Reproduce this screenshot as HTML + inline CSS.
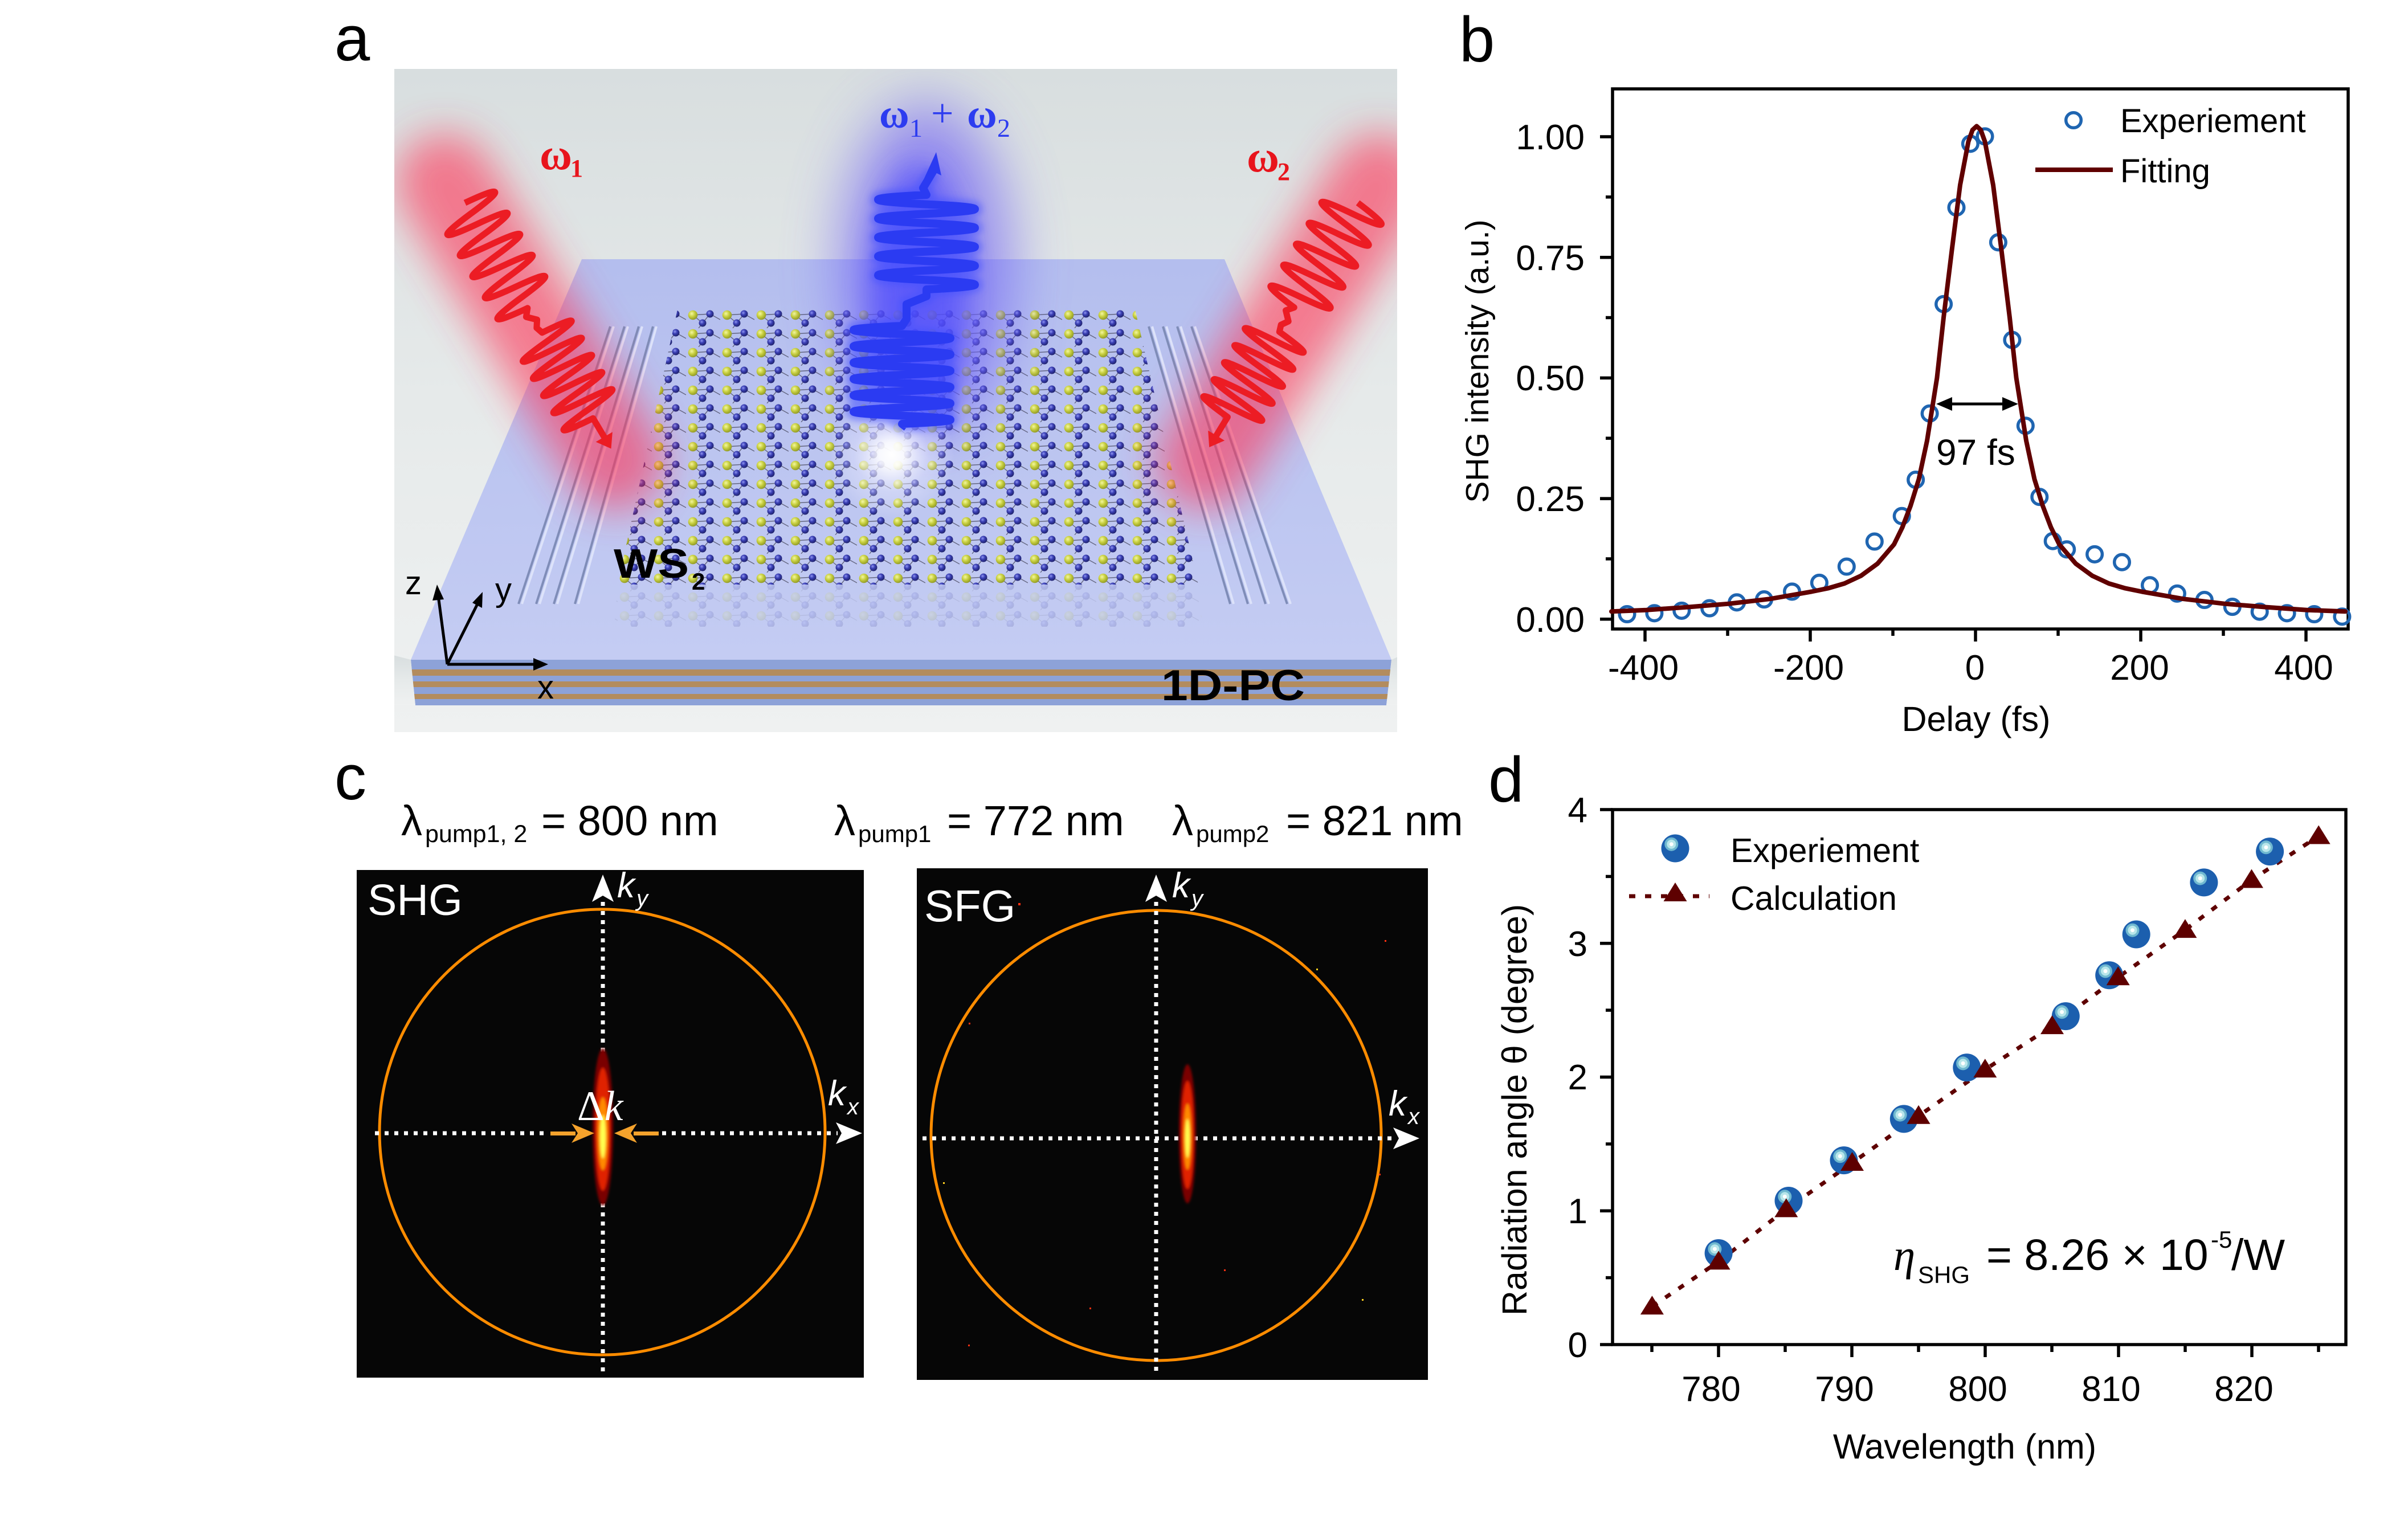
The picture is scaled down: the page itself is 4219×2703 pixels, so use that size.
<!DOCTYPE html>
<html><head><meta charset="utf-8">
<style>
html,body{margin:0;padding:0;background:#fff;}
svg{display:block;}
text{font-family:"Liberation Sans",Arial,sans-serif;}
.sf{font-family:"Liberation Serif","Times New Roman",serif;}
</style></head><body>
<svg width="4219" height="2703" viewBox="0 0 4219 2703" xmlns="http://www.w3.org/2000/svg">
<defs>
<clipPath id="clipA"><rect x="692" y="121" width="1760" height="1164"/></clipPath>
<clipPath id="clipC1"><rect x="626" y="1527" width="890" height="891"/></clipPath>
<clipPath id="clipC2"><rect x="1609" y="1524" width="897" height="898"/></clipPath>
<linearGradient id="abg" x1="0" y1="0" x2="0" y2="1"><stop offset="0" stop-color="#d8dedf"/><stop offset="0.5" stop-color="#e6eaea"/><stop offset="1" stop-color="#eff1f1"/></linearGradient>
<linearGradient id="slab" x1="0" y1="0" x2="0" y2="1"><stop offset="0" stop-color="#b4beee"/><stop offset="1" stop-color="#c4ccf3"/></linearGradient>
<radialGradient id="gb" cx="0.38" cy="0.35" r="0.65"><stop offset="0" stop-color="#9096f2"/><stop offset="0.45" stop-color="#3a3fb4"/><stop offset="1" stop-color="#20236e"/></radialGradient>
<radialGradient id="gy" cx="0.38" cy="0.35" r="0.65"><stop offset="0" stop-color="#f4f7a0"/><stop offset="0.5" stop-color="#c8d040"/><stop offset="1" stop-color="#939c28"/></radialGradient>
<radialGradient id="spot"><stop offset="0" stop-color="#fff" stop-opacity="1"/><stop offset="0.2" stop-color="#fff" stop-opacity="0.9"/><stop offset="0.6" stop-color="#eef" stop-opacity="0.35"/><stop offset="1" stop-color="#fff" stop-opacity="0"/></radialGradient>
<pattern id="lat" x="1084" y="543" width="60" height="33" patternUnits="userSpaceOnUse">
 <g stroke="#3c3c50" stroke-width="1.4" opacity="0.7">
  <line x1="12" y1="10" x2="42" y2="8"/>
  <line x1="12" y1="10" x2="29" y2="24"/>
  <line x1="29" y1="24" x2="42" y2="8"/>
  <line x1="42" y1="8" x2="60" y2="18"/>
  <line x1="29" y1="24" x2="22" y2="33"/>
 </g>
 <circle cx="29" cy="24" r="6.5" fill="url(#gb)"/>
 <circle cx="42" cy="8" r="6.5" fill="url(#gb)"/>
 <circle cx="12" cy="10" r="8.3" fill="url(#gy)"/>
</pattern>
<filter id="bl35" filterUnits="userSpaceOnUse" x="500" y="0" width="2200" height="1500"><feGaussianBlur stdDeviation="35"/></filter>
<filter id="bl50" filterUnits="userSpaceOnUse" x="500" y="0" width="2200" height="1500"><feGaussianBlur stdDeviation="50"/></filter>
<filter id="bl25" filterUnits="userSpaceOnUse" x="500" y="0" width="2200" height="1500"><feGaussianBlur stdDeviation="25"/></filter>
<filter id="bl6" filterUnits="userSpaceOnUse" x="500" y="0" width="2200" height="1500"><feGaussianBlur stdDeviation="6"/></filter>
<filter id="bl2" filterUnits="userSpaceOnUse" x="600" y="1500" width="2000" height="1000"><feGaussianBlur stdDeviation="2"/></filter>
<g id="ballg">
 <circle cx="0" cy="0" r="24.5" fill="#1c5fae"/>
 <circle cx="-6.7" cy="-7.3" r="12" fill="#6fb8d0"/>
 <circle cx="-6.7" cy="-7.3" r="8" fill="#b8e6ea"/>
 <circle cx="-6.7" cy="-7.3" r="3.5" fill="#ffffff"/>
</g>
<polygon id="tri" points="0,-19 20.5,14 -20.5,14" fill="#5e0000"/>
<path id="wredp" d="M0,0 q10.75,-110 21.5,0 t21.5,0 t21.5,0 t21.5,0 t21.5,0 t21.5,0 t21.5,0 t21.5,0 t21.5,0 t21.5,0 l12,10 l14,-14 l12,8 l12,-4 q8.75,-110 17.5,0 t17.5,0 t17.5,0 t17.5,0 t17.5,0 t17.5,0 t17.5,0 t17.5,0 t17.5,0 t17.5,0 l42,0"/>
<path id="wbluep" d="M1591,750 L1583,744 q170,-7.17 0,-14.33 t0,-14.33 t0,-14.33 t0,-14.33 t0,-14.33 t0,-14.33 t0,-14.33 t0,-14.33 t0,-14.33 t0,-14.33 t0,-14.33 t0,-14.33 L1591,560 L1591,534 L1626,520 L1626,508 q170,-8.3 0,-16.6 t0,-16.6 t0,-16.6 t0,-16.6 t0,-16.6 t0,-16.6 t0,-16.6 t0,-16.6 t0,-16.6 t0,-16.6 L1620,330 L1638,300"/>
</defs>

<rect x="0" y="0" width="4219" height="2703" fill="#fff"/>

<!-- ================= PANEL A ================= -->
<text x="587" y="106" font-size="112">a</text>
<g clip-path="url(#clipA)">
 <rect x="692" y="121" width="1760" height="1164" fill="url(#abg)"/>
 <polygon points="1021,455 2149,455 2442,1158 721,1158" fill="url(#slab)"/>
 <g stroke-width="4">
  <line x1="1071" y1="573" x2="910" y2="1060" stroke="#7f8db8"/><line x1="1077" y1="573" x2="916" y2="1060" stroke="#dde3fa"/>
  <line x1="1096" y1="573" x2="941" y2="1060" stroke="#7f8db8"/><line x1="1102" y1="573" x2="947" y2="1060" stroke="#dde3fa"/>
  <line x1="1121" y1="573" x2="972" y2="1060" stroke="#7f8db8"/><line x1="1127" y1="573" x2="978" y2="1060" stroke="#dde3fa"/>
  <line x1="1146" y1="573" x2="1009" y2="1060" stroke="#7f8db8"/><line x1="1152" y1="573" x2="1015" y2="1060" stroke="#dde3fa"/>
  <line x1="2016" y1="573" x2="2159" y2="1060" stroke="#7f8db8"/><line x1="2022" y1="573" x2="2165" y2="1060" stroke="#dde3fa"/>
  <line x1="2041" y1="573" x2="2190" y2="1060" stroke="#7f8db8"/><line x1="2047" y1="573" x2="2196" y2="1060" stroke="#dde3fa"/>
  <line x1="2066" y1="573" x2="2221" y2="1060" stroke="#7f8db8"/><line x1="2072" y1="573" x2="2227" y2="1060" stroke="#dde3fa"/>
  <line x1="2091" y1="573" x2="2259" y2="1060" stroke="#7f8db8"/><line x1="2097" y1="573" x2="2265" y2="1060" stroke="#dde3fa"/>
 </g>
 <polygon points="1084,1026 2103,1026 2110,1100 1078,1100" fill="url(#lat)" opacity="0.15"/>
 <polygon points="1189,543 1992,543 2103,1026 1084,1026" fill="url(#lat)"/>
 <polygon points="721,1158 2442,1158 2433,1238 729,1238" fill="#8da2d8"/>
 <rect x="700" y="1175" width="1760" height="11" fill="#b38c5e"/>
 <rect x="700" y="1196" width="1760" height="10" fill="#b38c5e"/>
 <rect x="700" y="1218" width="1760" height="9" fill="#b38c5e"/>
 <polygon points="2433,1238 2460,1238 2460,1150 2442,1158" fill="url(#abg)"/>
 <polygon points="729,1238 690,1238 690,1150 721,1158" fill="url(#abg)"/>
 <!-- glows -->
 <line x1="780" y1="320" x2="1080" y2="810" stroke="#ff3355" stroke-width="170" opacity="0.6" filter="url(#bl35)" stroke-linecap="round"/>
 <line x1="2420" y1="320" x2="2115" y2="810" stroke="#ff3355" stroke-width="170" opacity="0.6" filter="url(#bl35)" stroke-linecap="round"/>
 <ellipse cx="1625" cy="470" rx="150" ry="290" fill="#7466f4" opacity="0.7" filter="url(#bl50)"/>
 <ellipse cx="1610" cy="520" rx="85" ry="230" fill="#3c3cff" opacity="0.55" filter="url(#bl25)"/>
 <circle cx="1565" cy="798" r="110" fill="url(#spot)"/>
 <!-- waves -->
 <g transform="translate(816,356) rotate(59.27)">
  <use href="#wredp" fill="none" stroke="#ff3040" stroke-width="22" opacity="0.5" filter="url(#bl6)"/>
  <use href="#wredp" fill="none" stroke="#ec1c24" stroke-width="11" stroke-linejoin="round"/>
  <polygon points="478,-17 502,0 478,17" fill="#ec1c24"/>
 </g>
 <g transform="translate(2383,356) rotate(121.3)">
  <use href="#wredp" fill="none" stroke="#ff3040" stroke-width="22" opacity="0.5" filter="url(#bl6)"/>
  <use href="#wredp" fill="none" stroke="#ec1c24" stroke-width="11" stroke-linejoin="round"/>
  <polygon points="478,-17 502,0 478,17" fill="#ec1c24"/>
 </g>
 <use href="#wbluep" fill="none" stroke="#4050ff" stroke-width="26" opacity="0.5" filter="url(#bl6)"/>
 <use href="#wbluep" fill="none" stroke="#2b3bf2" stroke-width="14" stroke-linejoin="round"/>
 <polygon points="1643,267 1652,308 1636,300 1622,313" fill="#2b3bf2"/>
 <!-- labels -->
 <text class="sf" x="947" y="297" font-size="78" font-weight="bold" fill="#e8141c">ω</text>
 <text class="sf" x="1001" y="310" font-size="44" font-weight="bold" fill="#e8141c">1</text>
 <text class="sf" x="1543" y="224" font-size="72" font-weight="bold" fill="#2d3cf0">ω</text>
 <text class="sf" x="1596" y="240" font-size="46" fill="#2d3cf0">1</text>
 <text class="sf" x="1634" y="222" font-size="70" fill="#2d3cf0">+</text>
 <text class="sf" x="1697" y="224" font-size="72" font-weight="bold" fill="#2d3cf0">ω</text>
 <text class="sf" x="1750" y="240" font-size="46" fill="#2d3cf0">2</text>
 <text class="sf" x="2188" y="301" font-size="78" font-weight="bold" fill="#e8141c">ω</text>
 <text class="sf" x="2242" y="316" font-size="44" font-weight="bold" fill="#e8141c">2</text>
 <text x="1077" y="1014" font-size="72" font-weight="bold" textLength="132" lengthAdjust="spacingAndGlyphs">WS</text>
 <text x="1214" y="1035" font-size="42" font-weight="bold">2</text>
 <text x="2038" y="1229" font-size="76" font-weight="bold" textLength="252" lengthAdjust="spacingAndGlyphs">1D-PC</text>
 <g stroke="#000" stroke-width="5" fill="none">
  <line x1="785" y1="1166" x2="769" y2="1045"/>
  <line x1="785" y1="1166" x2="840" y2="1056"/>
  <line x1="785" y1="1166" x2="940" y2="1166"/>
 </g>
 <polygon points="767,1026 779,1052 759,1054" fill="#000"/>
 <polygon points="847,1039 846,1067 829,1058" fill="#000"/>
 <polygon points="962,1166 936,1177 936,1155" fill="#000"/>
 <text x="711" y="1043" font-size="58">z</text>
 <text x="869" y="1055" font-size="58">y</text>
 <text x="943" y="1226" font-size="58">x</text>
</g>

<!-- ================= PANEL B ================= -->
<text x="2561" y="108" font-size="112">b</text>
<g stroke="#000" stroke-width="5.5" fill="none">
 <rect x="2830" y="156" width="1291" height="948"/>
 <line x1="2808" y1="1086.8" x2="2830" y2="1086.8"/>
 <line x1="2808" y1="875.1" x2="2830" y2="875.1"/>
 <line x1="2808" y1="663.4" x2="2830" y2="663.4"/>
 <line x1="2808" y1="451.7" x2="2830" y2="451.7"/>
 <line x1="2808" y1="240" x2="2830" y2="240"/>
 <line x1="2818" y1="980.9" x2="2830" y2="980.9"/>
 <line x1="2818" y1="769.2" x2="2830" y2="769.2"/>
 <line x1="2818" y1="557.5" x2="2830" y2="557.5"/>
 <line x1="2818" y1="345.8" x2="2830" y2="345.8"/>
 <line x1="2887" y1="1104" x2="2887" y2="1126"/>
 <line x1="3177" y1="1104" x2="3177" y2="1126"/>
 <line x1="3467" y1="1104" x2="3467" y2="1126"/>
 <line x1="3757" y1="1104" x2="3757" y2="1126"/>
 <line x1="4047" y1="1104" x2="4047" y2="1126"/>
 <line x1="3032" y1="1104" x2="3032" y2="1116"/>
 <line x1="3322" y1="1104" x2="3322" y2="1116"/>
 <line x1="3612" y1="1104" x2="3612" y2="1116"/>
 <line x1="3902" y1="1104" x2="3902" y2="1116"/>
</g>
<g font-size="62" text-anchor="end">
 <text x="2781" y="1109">0.00</text>
 <text x="2781" y="897">0.25</text>
 <text x="2781" y="685">0.50</text>
 <text x="2781" y="474">0.75</text>
 <text x="2781" y="262">1.00</text>
</g>
<g font-size="62" text-anchor="middle">
 <text x="2884" y="1193">-400</text>
 <text x="3174" y="1193">-200</text>
 <text x="3466" y="1193">0</text>
 <text x="3755" y="1193">200</text>
 <text x="4043" y="1193">400</text>
 <text x="3468" y="1283" font-size="61">Delay (fs)</text>
</g>
<text transform="translate(2612,634) rotate(-90)" font-size="57" text-anchor="middle">SHG intensity (a.u.)</text>
<g fill="none" stroke="#1f65b1" stroke-width="5.5">
<circle cx="2855.5" cy="1078" r="13.3"/><circle cx="2903.4" cy="1076.3" r="13.3"/><circle cx="2951.3" cy="1071.9" r="13.3"/><circle cx="3000.2" cy="1067.6" r="13.3"/><circle cx="3048.1" cy="1057.3" r="13.3"/><circle cx="3096" cy="1052.1" r="13.3"/><circle cx="3145" cy="1038.4" r="13.3"/><circle cx="3192.9" cy="1022.9" r="13.3"/><circle cx="3240.8" cy="994.5" r="13.3"/><circle cx="3289.8" cy="950.5" r="13.3"/><circle cx="3337.7" cy="905.8" r="13.3"/><circle cx="3362.1" cy="842.1" r="13.3"/><circle cx="3386.6" cy="725.8" r="13.3"/><circle cx="3411.1" cy="533.8" r="13.3"/><circle cx="3433.5" cy="364.2" r="13.3"/><circle cx="3457.9" cy="252.3" r="13.3"/><circle cx="3483.5" cy="239.4" r="13.3"/><circle cx="3506.9" cy="425.3" r="13.3"/><circle cx="3531.4" cy="596.7" r="13.3"/><circle cx="3554.8" cy="747.3" r="13.3"/><circle cx="3579.3" cy="872.2" r="13.3"/><circle cx="3602.7" cy="949.7" r="13.3"/><circle cx="3627.2" cy="964.3" r="13.3"/><circle cx="3676.1" cy="972.9" r="13.3"/><circle cx="3724" cy="986.7" r="13.3"/><circle cx="3773" cy="1027.2" r="13.3"/><circle cx="3820.9" cy="1041.8" r="13.3"/><circle cx="3868.8" cy="1053" r="13.3"/><circle cx="3917.8" cy="1065.1" r="13.3"/><circle cx="3965.7" cy="1073.7" r="13.3"/><circle cx="4013.6" cy="1076.3" r="13.3"/><circle cx="4061.4" cy="1078" r="13.3"/><circle cx="4110.4" cy="1082.3" r="13.3"/>
<circle cx="3639" cy="211" r="13.3"/>
</g>
<polyline fill="none" stroke="#600000" stroke-width="8" stroke-linejoin="round" stroke-linecap="round" points="2828,1073.3 2889,1070.7 2961.5,1065.6 3034,1059.7 3106.5,1051.2 3179,1038.5 3208,1032.6 3237,1024.1 3266,1010.6 3295,989.4 3324,955.5 3338.5,925.9 3353,887.8 3367.5,841.2 3382,773.5 3399.4,663.4 3411,557.5 3425.5,439 3440,324.7 3454.5,248.5 3461.75,228.1 3469,221.4 3476.25,228.1 3483.5,248.5 3498,324.7 3512.5,439 3527,557.5 3538.6,663.4 3556,773.5 3570.5,841.2 3585,887.8 3599.5,925.9 3614,955.5 3643,989.4 3672,1010.6 3701,1024.1 3730,1032.6 3759,1038.5 3831.5,1051.2 3904,1059.7 3976.5,1065.6 4049,1070.7 4116,1073.3"/>
<line x1="3572" y1="298" x2="3708" y2="298" stroke="#600000" stroke-width="8"/>
<text x="3721" y="232" font-size="58">Experiement</text>
<text x="3721" y="320" font-size="58">Fitting</text>
<line x1="3420" y1="709" x2="3520" y2="709" stroke="#000" stroke-width="5"/>
<polygon points="3398,709 3426,697 3426,721" fill="#000"/>
<polygon points="3542,709 3514,697 3514,721" fill="#000"/>
<text x="3398" y="816" font-size="64">97 fs</text>

<!-- ================= PANEL C ================= -->
<text x="587" y="1403" font-size="112">c</text>
<text x="704" y="1466" font-size="74">λ</text>
<text x="746" y="1478" font-size="43">pump1, 2</text>
<text x="950" y="1466" font-size="74">= 800 nm</text>
<text x="1464" y="1466" font-size="74">λ</text>
<text x="1506" y="1478" font-size="42">pump1</text>
<text x="1662" y="1466" font-size="74">= 772 nm</text>
<text x="2057" y="1466" font-size="74">λ</text>
<text x="2099" y="1478" font-size="42">pump2</text>
<text x="2257" y="1466" font-size="74">= 821 nm</text>

<rect x="626" y="1527" width="890" height="891" fill="#060606"/>
<g clip-path="url(#clipC1)">
 <circle cx="1057" cy="1987" r="391" fill="none" stroke="#ff8c00" stroke-width="5"/>
 <g stroke="#fff" stroke-width="7" fill="none">
  <line x1="1058" y1="1583" x2="1058" y2="1855" stroke-dasharray="7 9"/>
  <line x1="1058" y1="2112" x2="1058" y2="2410" stroke-dasharray="7 9"/>
  <line x1="658" y1="1989" x2="957" y2="1989" stroke-dasharray="7 10"/>
  <line x1="1162" y1="1989" x2="1470" y2="1989" stroke-dasharray="7 10"/>
 </g>
 <g filter="url(#bl2)">
  <ellipse cx="1058" cy="1978" rx="18" ry="138" fill="#7a0600"/>
  <ellipse cx="1058" cy="1982" rx="13" ry="108" fill="#e02000"/>
  <ellipse cx="1058" cy="1990" rx="9" ry="64" fill="#ff8a00"/>
  <ellipse cx="1058" cy="1995" rx="5" ry="38" fill="#ffff50"/>
 </g>
 <polygon points="1058,1535 1077,1583 1058,1572 1039,1583" fill="#fff"/>
 <polygon points="1513,1989 1467,2008 1477,1989 1467,1970" fill="#fff"/>
 <rect x="966" y="1986" width="44" height="7" fill="#f4a22c"/>
 <polygon points="1003,1972 1043,1989 1003,2006 1014,1989" fill="#f4a22c"/>
 <rect x="1112" y="1986" width="44" height="7" fill="#f4a22c"/>
 <polygon points="1118,1972 1078,1989 1118,2006 1107,1989" fill="#f4a22c"/>
 <text class="sf" x="1013" y="1966" font-size="74" fill="#fff">Δ<tspan font-style="italic">k</tspan></text>
 <text x="645" y="1606" font-size="77" fill="#fff">SHG</text>
 <text x="1083" y="1575" font-size="62" font-style="italic" fill="#fff">k</text>
 <text x="1117" y="1590" font-size="40" font-style="italic" fill="#fff">y</text>
 <text x="1453" y="1940" font-size="62" font-style="italic" fill="#fff">k</text>
 <text x="1487" y="1956" font-size="40" font-style="italic" fill="#fff">x</text>
</g>

<rect x="1609" y="1524" width="897" height="898" fill="#060606"/>
<g clip-path="url(#clipC2)">
 <circle cx="2029" cy="1993" r="395" fill="none" stroke="#ff8c00" stroke-width="5"/>
 <g stroke="#fff" stroke-width="7" fill="none">
  <line x1="2029" y1="1583" x2="2029" y2="2413" stroke-dasharray="7 9"/>
  <line x1="1619" y1="1998" x2="2447" y2="1998" stroke-dasharray="7 10"/>
 </g>
 <g filter="url(#bl2)">
  <ellipse cx="2084" cy="1990" rx="15" ry="122" fill="#7a0600"/>
  <ellipse cx="2084" cy="1992" rx="11" ry="95" fill="#e02000"/>
  <ellipse cx="2084" cy="1995" rx="7" ry="58" fill="#ff8a00"/>
  <ellipse cx="2084" cy="1998" rx="4" ry="34" fill="#ffff50"/>
 </g>
 <polygon points="2029,1535 2048,1583 2029,1572 2010,1583" fill="#fff"/>
 <polygon points="2491,1998 2445,2017 2455,1998 2445,1979" fill="#fff"/>
 <g fill="#ff3010">
  <rect x="1787" y="1585" width="4" height="4"/><rect x="2310" y="1700" width="3" height="3" fill="#ffd020"/>
  <rect x="1700" y="1795" width="3" height="3"/><rect x="2430" y="1650" width="3" height="3"/>
  <rect x="2390" y="2280" width="3" height="3" fill="#ffd020"/><rect x="1912" y="2295" width="3" height="3"/>
  <rect x="2148" y="2228" width="3" height="3"/><rect x="1699" y="2360" width="3" height="3"/>
  <rect x="1655" y="2075" width="3" height="3" fill="#ffd020"/><rect x="2420" y="2060" width="3" height="3"/>
 </g>
 <text x="1622" y="1617" font-size="78" fill="#fff">SFG</text>
 <text x="2057" y="1575" font-size="62" font-style="italic" fill="#fff">k</text>
 <text x="2091" y="1590" font-size="40" font-style="italic" fill="#fff">y</text>
 <text x="2437" y="1958" font-size="62" font-style="italic" fill="#fff">k</text>
 <text x="2471" y="1973" font-size="40" font-style="italic" fill="#fff">x</text>
</g>

<!-- ================= PANEL D ================= -->
<text x="2612" y="1407" font-size="112">d</text>
<g stroke="#000" stroke-width="5.5" fill="none">
 <rect x="2830" y="1421" width="1287" height="939"/>
 <line x1="2808" y1="2360" x2="2830" y2="2360"/>
 <line x1="2808" y1="2125.25" x2="2830" y2="2125.25"/>
 <line x1="2808" y1="1890.5" x2="2830" y2="1890.5"/>
 <line x1="2808" y1="1655.75" x2="2830" y2="1655.75"/>
 <line x1="2808" y1="1421" x2="2830" y2="1421"/>
 <line x1="2818" y1="2242.6" x2="2830" y2="2242.6"/>
 <line x1="2818" y1="2007.9" x2="2830" y2="2007.9"/>
 <line x1="2818" y1="1773.1" x2="2830" y2="1773.1"/>
 <line x1="2818" y1="1538.4" x2="2830" y2="1538.4"/>
 <line x1="3016" y1="2360" x2="3016" y2="2382"/>
 <line x1="3250" y1="2360" x2="3250" y2="2382"/>
 <line x1="3484" y1="2360" x2="3484" y2="2382"/>
 <line x1="3718" y1="2360" x2="3718" y2="2382"/>
 <line x1="3952" y1="2360" x2="3952" y2="2382"/>
 <line x1="2899" y1="2360" x2="2899" y2="2373"/>
 <line x1="3133" y1="2360" x2="3133" y2="2373"/>
 <line x1="3367" y1="2360" x2="3367" y2="2373"/>
 <line x1="3601" y1="2360" x2="3601" y2="2373"/>
 <line x1="3835" y1="2360" x2="3835" y2="2373"/>
 <line x1="4069" y1="2360" x2="4069" y2="2373"/>
</g>
<g font-size="62" text-anchor="end">
 <text x="2786" y="2382">0</text>
 <text x="2786" y="2147">1</text>
 <text x="2786" y="1912">2</text>
 <text x="2786" y="1678">3</text>
 <text x="2786" y="1443">4</text>
</g>
<g font-size="62" text-anchor="middle">
 <text x="3003" y="2459">780</text>
 <text x="3237" y="2459">790</text>
 <text x="3471" y="2459">800</text>
 <text x="3705" y="2459">810</text>
 <text x="3938" y="2459">820</text>
 <text x="3448" y="2560" font-size="61">Wavelength (nm)</text>
</g>
<text transform="translate(2679,1948) rotate(-90)" font-size="61" text-anchor="middle">Radiation angle θ (degree)</text>
<polyline fill="none" stroke="#5e0000" stroke-width="7" stroke-dasharray="11 17" points="2899.4,2293.2 3016.1,2214.4 3134.8,2122.4 3250.5,2041 3367.1,1958.7 3483.8,1877.3 3601.5,1801.1 3717.2,1715.3 3834.9,1632.1 3951.5,1544.5 4069.2,1467.5"/>
<use href="#ballg" x="3016.1" y="2199.5"/>
<use href="#ballg" x="3139" y="2107.5"/>
<use href="#ballg" x="3236" y="2036.6"/>
<use href="#ballg" x="3341.3" y="1963.9"/>
<use href="#ballg" x="3451.8" y="1873.7"/>
<use href="#ballg" x="3625.3" y="1783.6"/>
<use href="#ballg" x="3701.7" y="1711.8"/>
<use href="#ballg" x="3749.2" y="1640"/>
<use href="#ballg" x="3867.9" y="1548.9"/>
<use href="#ballg" x="3983.6" y="1494.6"/>
<use href="#tri" x="2899.4" y="2293.2"/>
<use href="#tri" x="3016.1" y="2214.4"/>
<use href="#tri" x="3134.8" y="2122.4"/>
<use href="#tri" x="3250.5" y="2041"/>
<use href="#tri" x="3367.1" y="1958.7"/>
<use href="#tri" x="3483.8" y="1877.3"/>
<use href="#tri" x="3601.5" y="1801.1"/>
<use href="#tri" x="3717.2" y="1715.3"/>
<use href="#tri" x="3834.9" y="1632.1"/>
<use href="#tri" x="3951.5" y="1544.5"/>
<use href="#tri" x="4069.2" y="1467.5"/>
<use href="#ballg" x="2940" y="1489"/>
<line x1="2859" y1="1573" x2="3000" y2="1573" stroke="#5e0000" stroke-width="7" stroke-dasharray="11 17"/>
<use href="#tri" x="2940" y="1568"/>
<text x="3037" y="1513" font-size="59">Experiement</text>
<text x="3037" y="1597" font-size="59">Calculation</text>
<text class="sf" x="3323" y="2229" font-size="77" font-style="italic">η</text>
<text x="3366" y="2252" font-size="42">SHG</text>
<text x="3486" y="2229" font-size="77">= 8.26 × 10</text>
<text x="3880" y="2190" font-size="42">-5</text>
<text x="3916" y="2229" font-size="77">/W</text>
</svg>
</body></html>
